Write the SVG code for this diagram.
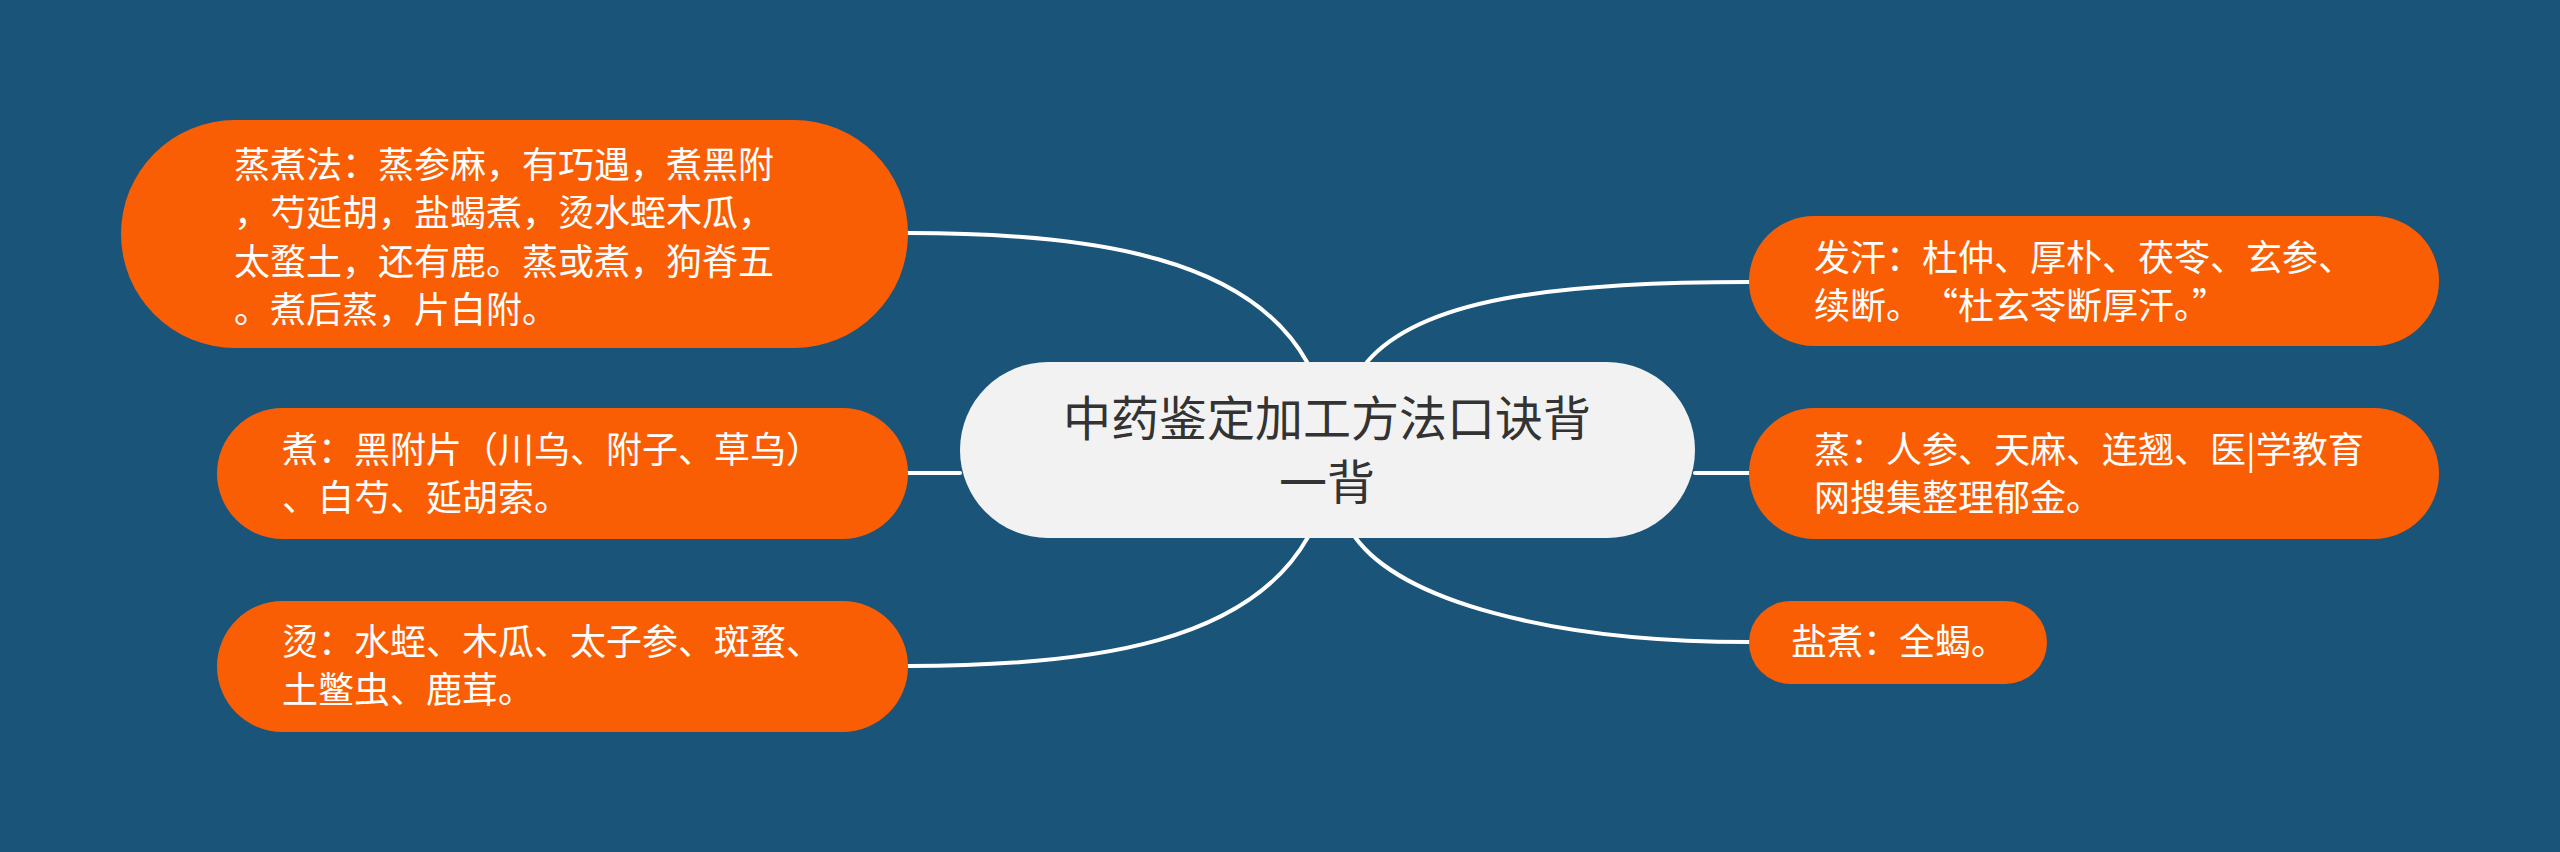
<svg xmlns="http://www.w3.org/2000/svg" width="2560" height="852" viewBox="0 0 2560 852">
<style>
.bg{fill:#1a5479}
.leaf{fill:#fa5e05}
.root{fill:#f2f2f2}
.lt{font-family:"Noto Sans CJK SC","Noto Sans",sans-serif;font-size:36px;fill:#ffffff}
.rt{font-family:"Noto Sans CJK SC","Noto Sans",sans-serif;font-size:48px;fill:#333333;text-anchor:middle}
.con{fill:none;stroke:#ffffff;stroke-width:4;stroke-linecap:round}
</style>
<rect class="bg" x="0" y="0" width="2560" height="852"/>
<g id="connectors">
<path class="con" d="M1307,362 C1250,260 1100,233 908,233"/>
<path class="con" d="M960,473 L908,473"/>
<path class="con" d="M1308,537 C1250,640 1100,666 908,666"/>
<path class="con" d="M1367,362 C1420,300 1550,282 1749,282"/>
<path class="con" d="M1695,473 L1749,473"/>
<path class="con" d="M1355,537 C1400,600 1550,642 1749,642"/>
</g>
<g id="root">
<rect class="root" x="960" y="362" width="735" height="176" rx="88"/>
<text class="rt" x="1327" y="436">中药鉴定加工方法口诀背</text>
<text class="rt" x="1327" y="500">一背</text>
</g>
<g id="node-zhengzhufa">
<rect class="leaf" x="121" y="120" width="787" height="228" rx="114"/>
<text class="lt" x="234" y="178">蒸煮法：蒸参麻，有巧遇，煮黑附</text>
<text class="lt" x="234" y="226">，芍延胡，盐蝎煮，烫水蛭木瓜，</text>
<text class="lt" x="234" y="275">太蝥土，还有鹿。蒸或煮，狗脊五</text>
<text class="lt" x="234" y="323">。煮后蒸，片白附。</text>
</g>
<g id="node-zhu">
<rect class="leaf" x="217" y="408" width="691" height="131" rx="65.5"/>
<text class="lt" x="282" y="463">煮：黑附片（川乌、附子、草乌）</text>
<text class="lt" x="282" y="511">、白芍、延胡索。</text>
</g>
<g id="node-tang">
<rect class="leaf" x="217" y="601" width="691" height="131" rx="65.5"/>
<text class="lt" x="282" y="655">烫：水蛭、木瓜、太子参、斑蝥、</text>
<text class="lt" x="282" y="703">土鳖虫、鹿茸。</text>
</g>
<g id="node-fahan">
<rect class="leaf" x="1749" y="216" width="690" height="130" rx="65"/>
<text class="lt" x="1814" y="271">发汗：杜仲、厚朴、茯苓、玄参、</text>
<text class="lt" x="1814" y="319">续断。<tspan dx="18">“杜玄苓断厚汗。”</tspan></text>
</g>
<g id="node-zheng">
<rect class="leaf" x="1749" y="408" width="690" height="131" rx="65.5"/>
<text class="lt" x="1814" y="463">蒸：人参、天麻、连翘、医|学教育</text>
<text class="lt" x="1814" y="511">网搜集整理郁金。</text>
</g>
<g id="node-yanzhu">
<rect class="leaf" x="1749" y="601" width="298" height="83" rx="41.5"/>
<text class="lt" x="1791" y="655">盐煮：全蝎。</text>
</g>
</svg>
